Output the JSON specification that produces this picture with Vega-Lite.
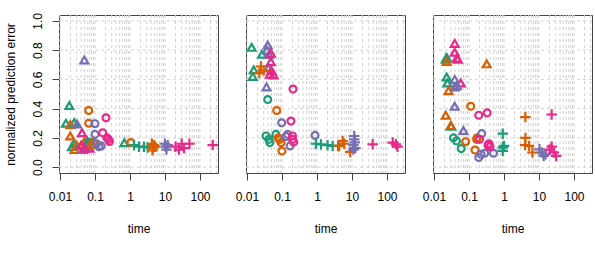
{
  "$schema": "https://vega.github.io/schema/vega-lite/v6.json",
  "padding": {"left": 4, "top": 12, "right": 0, "bottom": 0},
  "background": "white",
  "spacing": 28,
  "bounds": "flush",
  "config": {
    "view": {"stroke": "#444444", "strokeWidth": 1},
    "font": "Liberation Sans",
    "axis": {"labelFont": "Liberation Sans", "titleFont": "Liberation Sans", "labelFontSize": 12, "titleFontSize": 12, "titleFontWeight": "normal", "labelColor": "#000000", "titleColor": "#000000", "tickColor": "#444444", "tickSize": 7, "domain": false, "grid": false}
  },
  "datasets": {
    "vgrid": [
      {"g": 0.01}, {"g": 0.02}, {"g": 0.03}, {"g": 0.04}, {"g": 0.05}, {"g": 0.06}, {"g": 0.07}, {"g": 0.08}, {"g": 0.09},
      {"g": 0.1}, {"g": 0.2}, {"g": 0.3}, {"g": 0.4}, {"g": 0.5}, {"g": 0.6}, {"g": 0.7}, {"g": 0.8}, {"g": 0.9},
      {"g": 1}, {"g": 2}, {"g": 3}, {"g": 4}, {"g": 5}, {"g": 6}, {"g": 7}, {"g": 8}, {"g": 9},
      {"g": 10}, {"g": 20}, {"g": 30}, {"g": 40}, {"g": 50}, {"g": 60}, {"g": 70}, {"g": 80}, {"g": 90},
      {"g": 100}, {"g": 200}, {"g": 300}
    ],
    "hgrid": [{"g": 0}, {"g": 0.2}, {"g": 0.4}, {"g": 0.6}, {"g": 0.8}, {"g": 1}],
    "pts": [
      {"p": "a", "m": "A", "s": "tri", "t": 0.0185, "e": 0.421},
      {"p": "a", "m": "A", "s": "tri", "t": 0.0148, "e": 0.30},
      {"p": "a", "m": "A", "s": "tri", "t": 0.0256, "e": 0.305},
      {"p": "a", "m": "A", "s": "tri", "t": 0.022, "e": 0.14},
      {"p": "a", "m": "A", "s": "tri", "t": 0.025, "e": 0.16},
      {"p": "a", "m": "A", "s": "tri", "t": 0.06, "e": 0.18},
      {"p": "a", "m": "A", "s": "tri", "t": 0.687, "e": 0.167},
      {"p": "a", "m": "B", "s": "tri", "t": 0.0197, "e": 0.29},
      {"p": "a", "m": "B", "s": "tri", "t": 0.0197, "e": 0.213},
      {"p": "a", "m": "B", "s": "tri", "t": 0.026, "e": 0.12},
      {"p": "a", "m": "B", "s": "tri", "t": 0.03, "e": 0.15},
      {"p": "a", "m": "B", "s": "tri", "t": 0.05, "e": 0.175},
      {"p": "a", "m": "B", "s": "tri", "t": 0.065, "e": 0.135},
      {"p": "a", "m": "C", "s": "tri", "t": 0.0495, "e": 0.733},
      {"p": "a", "m": "C", "s": "tri", "t": 0.0306, "e": 0.295},
      {"p": "a", "m": "C", "s": "tri", "t": 0.045, "e": 0.12},
      {"p": "a", "m": "C", "s": "tri", "t": 0.055, "e": 0.14},
      {"p": "a", "m": "D", "s": "tri", "t": 0.0425, "e": 0.235},
      {"p": "a", "m": "D", "s": "tri", "t": 0.04, "e": 0.15},
      {"p": "a", "m": "D", "s": "tri", "t": 0.05, "e": 0.13},
      {"p": "a", "m": "D", "s": "tri", "t": 0.06, "e": 0.16},
      {"p": "a", "m": "D", "s": "tri", "t": 0.07, "e": 0.13},
      {"p": "a", "m": "A", "s": "circ", "t": 0.07, "e": 0.17},
      {"p": "a", "m": "B", "s": "circ", "t": 0.066, "e": 0.387},
      {"p": "a", "m": "B", "s": "circ", "t": 0.066, "e": 0.30},
      {"p": "a", "m": "B", "s": "circ", "t": 0.08, "e": 0.15},
      {"p": "a", "m": "B", "s": "circ", "t": 0.09, "e": 0.17},
      {"p": "a", "m": "B", "s": "circ", "t": 1.05, "e": 0.168},
      {"p": "a", "m": "C", "s": "circ", "t": 0.1, "e": 0.297},
      {"p": "a", "m": "C", "s": "circ", "t": 0.1, "e": 0.224},
      {"p": "a", "m": "C", "s": "circ", "t": 0.11, "e": 0.16},
      {"p": "a", "m": "C", "s": "circ", "t": 0.13, "e": 0.14},
      {"p": "a", "m": "C", "s": "circ", "t": 0.15, "e": 0.145},
      {"p": "a", "m": "D", "s": "circ", "t": 0.206, "e": 0.337},
      {"p": "a", "m": "D", "s": "circ", "t": 0.166, "e": 0.235},
      {"p": "a", "m": "D", "s": "circ", "t": 0.22, "e": 0.2},
      {"p": "a", "m": "D", "s": "circ", "t": 0.24, "e": 0.19},
      {"p": "a", "m": "D", "s": "circ", "t": 0.26, "e": 0.175},
      {"p": "a", "m": "A", "s": "plus", "t": 1.3, "e": 0.15},
      {"p": "a", "m": "A", "s": "plus", "t": 1.8, "e": 0.14},
      {"p": "a", "m": "A", "s": "plus", "t": 2.5, "e": 0.14},
      {"p": "a", "m": "A", "s": "plus", "t": 3.2, "e": 0.135},
      {"p": "a", "m": "B", "s": "plus", "t": 4.2, "e": 0.16},
      {"p": "a", "m": "B", "s": "plus", "t": 4.5, "e": 0.13},
      {"p": "a", "m": "B", "s": "plus", "t": 4.8, "e": 0.15},
      {"p": "a", "m": "B", "s": "plus", "t": 4.4, "e": 0.115},
      {"p": "a", "m": "B", "s": "plus", "t": 5.2, "e": 0.14},
      {"p": "a", "m": "C", "s": "plus", "t": 10, "e": 0.16},
      {"p": "a", "m": "C", "s": "plus", "t": 10.5, "e": 0.14},
      {"p": "a", "m": "C", "s": "plus", "t": 11, "e": 0.12},
      {"p": "a", "m": "C", "s": "plus", "t": 12, "e": 0.15},
      {"p": "a", "m": "D", "s": "plus", "t": 20, "e": 0.14},
      {"p": "a", "m": "D", "s": "plus", "t": 25, "e": 0.12},
      {"p": "a", "m": "D", "s": "plus", "t": 30, "e": 0.16},
      {"p": "a", "m": "D", "s": "plus", "t": 35, "e": 0.13},
      {"p": "a", "m": "D", "s": "plus", "t": 50, "e": 0.16},
      {"p": "a", "m": "D", "s": "plus", "t": 231, "e": 0.151},

      {"p": "b", "m": "A", "s": "tri", "t": 0.0136, "e": 0.819},
      {"p": "b", "m": "A", "s": "tri", "t": 0.0268, "e": 0.772},
      {"p": "b", "m": "A", "s": "tri", "t": 0.0155, "e": 0.665},
      {"p": "b", "m": "A", "s": "tri", "t": 0.0146, "e": 0.62},
      {"p": "b", "m": "C", "s": "tri", "t": 0.039, "e": 0.835},
      {"p": "b", "m": "C", "s": "tri", "t": 0.037, "e": 0.80},
      {"p": "b", "m": "C", "s": "tri", "t": 0.042, "e": 0.77},
      {"p": "b", "m": "C", "s": "tri", "t": 0.041, "e": 0.677},
      {"p": "b", "m": "C", "s": "tri", "t": 0.036, "e": 0.548},
      {"p": "b", "m": "D", "s": "tri", "t": 0.0484, "e": 0.778},
      {"p": "b", "m": "D", "s": "tri", "t": 0.048, "e": 0.72},
      {"p": "b", "m": "D", "s": "tri", "t": 0.05, "e": 0.66},
      {"p": "b", "m": "D", "s": "tri", "t": 0.057, "e": 0.63},
      {"p": "b", "m": "D", "s": "tri", "t": 0.045, "e": 0.635},
      {"p": "b", "m": "B", "s": "plus", "t": 0.025, "e": 0.688},
      {"p": "b", "m": "B", "s": "plus", "t": 0.0225, "e": 0.643},
      {"p": "b", "m": "B", "s": "plus", "t": 0.03, "e": 0.66},
      {"p": "b", "m": "A", "s": "circ", "t": 0.039, "e": 0.462},
      {"p": "b", "m": "A", "s": "circ", "t": 0.035, "e": 0.213},
      {"p": "b", "m": "A", "s": "circ", "t": 0.045, "e": 0.168},
      {"p": "b", "m": "A", "s": "circ", "t": 0.067, "e": 0.224},
      {"p": "b", "m": "A", "s": "circ", "t": 0.042, "e": 0.19},
      {"p": "b", "m": "B", "s": "circ", "t": 0.0706, "e": 0.387},
      {"p": "b", "m": "B", "s": "circ", "t": 0.078, "e": 0.20},
      {"p": "b", "m": "B", "s": "circ", "t": 0.094, "e": 0.168},
      {"p": "b", "m": "B", "s": "circ", "t": 0.1, "e": 0.11},
      {"p": "b", "m": "B", "s": "circ", "t": 0.085, "e": 0.19},
      {"p": "b", "m": "C", "s": "circ", "t": 0.098, "e": 0.303},
      {"p": "b", "m": "C", "s": "circ", "t": 0.146, "e": 0.224},
      {"p": "b", "m": "C", "s": "circ", "t": 0.17, "e": 0.145},
      {"p": "b", "m": "C", "s": "circ", "t": 0.13, "e": 0.21},
      {"p": "b", "m": "C", "s": "circ", "t": 0.877, "e": 0.217},
      {"p": "b", "m": "D", "s": "circ", "t": 0.206, "e": 0.534},
      {"p": "b", "m": "D", "s": "circ", "t": 0.18, "e": 0.315},
      {"p": "b", "m": "D", "s": "circ", "t": 0.2, "e": 0.213},
      {"p": "b", "m": "D", "s": "circ", "t": 0.215, "e": 0.172},
      {"p": "b", "m": "D", "s": "circ", "t": 0.2, "e": 0.19},
      {"p": "b", "m": "A", "s": "plus", "t": 0.93, "e": 0.16},
      {"p": "b", "m": "A", "s": "plus", "t": 1.3, "e": 0.155},
      {"p": "b", "m": "A", "s": "plus", "t": 2, "e": 0.15},
      {"p": "b", "m": "A", "s": "plus", "t": 2.8, "e": 0.145},
      {"p": "b", "m": "A", "s": "plus", "t": 4, "e": 0.145},
      {"p": "b", "m": "B", "s": "plus", "t": 5.4, "e": 0.179},
      {"p": "b", "m": "B", "s": "plus", "t": 4.3, "e": 0.145},
      {"p": "b", "m": "B", "s": "plus", "t": 8.9, "e": 0.104},
      {"p": "b", "m": "B", "s": "plus", "t": 6, "e": 0.16},
      {"p": "b", "m": "C", "s": "plus", "t": 11.6, "e": 0.213},
      {"p": "b", "m": "C", "s": "plus", "t": 11.6, "e": 0.19},
      {"p": "b", "m": "C", "s": "plus", "t": 12, "e": 0.17},
      {"p": "b", "m": "C", "s": "plus", "t": 11, "e": 0.15},
      {"p": "b", "m": "C", "s": "plus", "t": 12.5, "e": 0.13},
      {"p": "b", "m": "C", "s": "plus", "t": 11, "e": 0.12},
      {"p": "b", "m": "D", "s": "plus", "t": 39, "e": 0.156},
      {"p": "b", "m": "D", "s": "plus", "t": 146, "e": 0.168},
      {"p": "b", "m": "D", "s": "plus", "t": 180, "e": 0.156},
      {"p": "b", "m": "D", "s": "plus", "t": 200, "e": 0.14},

      {"p": "c", "m": "A", "s": "tri", "t": 0.0216, "e": 0.738},
      {"p": "c", "m": "A", "s": "tri", "t": 0.023, "e": 0.75},
      {"p": "c", "m": "A", "s": "tri", "t": 0.023, "e": 0.616},
      {"p": "c", "m": "A", "s": "tri", "t": 0.024, "e": 0.575},
      {"p": "c", "m": "A", "s": "tri", "t": 0.031, "e": 0.28},
      {"p": "c", "m": "D", "s": "tri", "t": 0.039, "e": 0.846},
      {"p": "c", "m": "D", "s": "tri", "t": 0.039, "e": 0.785},
      {"p": "c", "m": "D", "s": "tri", "t": 0.0445, "e": 0.745},
      {"p": "c", "m": "D", "s": "tri", "t": 0.048, "e": 0.738},
      {"p": "c", "m": "D", "s": "tri", "t": 0.058, "e": 0.575},
      {"p": "c", "m": "C", "s": "tri", "t": 0.039, "e": 0.60},
      {"p": "c", "m": "C", "s": "tri", "t": 0.045, "e": 0.557},
      {"p": "c", "m": "C", "s": "tri", "t": 0.039, "e": 0.548},
      {"p": "c", "m": "C", "s": "tri", "t": 0.039, "e": 0.416},
      {"p": "c", "m": "C", "s": "tri", "t": 0.069, "e": 0.251},
      {"p": "c", "m": "B", "s": "tri", "t": 0.023, "e": 0.722},
      {"p": "c", "m": "B", "s": "tri", "t": 0.32, "e": 0.706},
      {"p": "c", "m": "B", "s": "tri", "t": 0.026, "e": 0.523},
      {"p": "c", "m": "B", "s": "tri", "t": 0.0216, "e": 0.355},
      {"p": "c", "m": "B", "s": "tri", "t": 0.03, "e": 0.285},
      {"p": "c", "m": "A", "s": "circ", "t": 0.036, "e": 0.2},
      {"p": "c", "m": "A", "s": "circ", "t": 0.044, "e": 0.179},
      {"p": "c", "m": "A", "s": "circ", "t": 0.06, "e": 0.127},
      {"p": "c", "m": "B", "s": "circ", "t": 0.112, "e": 0.416},
      {"p": "c", "m": "B", "s": "circ", "t": 0.08, "e": 0.174},
      {"p": "c", "m": "B", "s": "circ", "t": 0.148, "e": 0.117},
      {"p": "c", "m": "B", "s": "circ", "t": 0.165, "e": 0.19},
      {"p": "c", "m": "B", "s": "circ", "t": 0.17, "e": 0.2},
      {"p": "c", "m": "C", "s": "circ", "t": 0.23, "e": 0.229},
      {"p": "c", "m": "C", "s": "circ", "t": 0.19, "e": 0.066},
      {"p": "c", "m": "C", "s": "circ", "t": 0.28, "e": 0.095},
      {"p": "c", "m": "C", "s": "circ", "t": 0.5, "e": 0.095},
      {"p": "c", "m": "C", "s": "circ", "t": 0.22, "e": 0.088},
      {"p": "c", "m": "D", "s": "circ", "t": 0.19, "e": 0.355},
      {"p": "c", "m": "D", "s": "circ", "t": 0.33, "e": 0.371},
      {"p": "c", "m": "D", "s": "circ", "t": 0.2, "e": 0.19},
      {"p": "c", "m": "D", "s": "circ", "t": 0.35, "e": 0.15},
      {"p": "c", "m": "D", "s": "circ", "t": 0.4, "e": 0.14},
      {"p": "c", "m": "D", "s": "circ", "t": 0.37, "e": 0.16},
      {"p": "c", "m": "A", "s": "plus", "t": 0.92, "e": 0.229},
      {"p": "c", "m": "A", "s": "plus", "t": 0.92, "e": 0.134},
      {"p": "c", "m": "A", "s": "plus", "t": 0.92, "e": 0.111},
      {"p": "c", "m": "A", "s": "plus", "t": 1.0, "e": 0.145},
      {"p": "c", "m": "B", "s": "plus", "t": 4.08, "e": 0.342},
      {"p": "c", "m": "B", "s": "plus", "t": 4.1, "e": 0.2},
      {"p": "c", "m": "B", "s": "plus", "t": 4.0, "e": 0.151},
      {"p": "c", "m": "B", "s": "plus", "t": 5.2, "e": 0.145},
      {"p": "c", "m": "B", "s": "plus", "t": 6.5, "e": 0.1},
      {"p": "c", "m": "C", "s": "plus", "t": 10.3, "e": 0.122},
      {"p": "c", "m": "C", "s": "plus", "t": 13.6, "e": 0.077},
      {"p": "c", "m": "C", "s": "plus", "t": 15.5, "e": 0.088},
      {"p": "c", "m": "C", "s": "plus", "t": 12, "e": 0.1},
      {"p": "c", "m": "D", "s": "plus", "t": 23, "e": 0.36},
      {"p": "c", "m": "D", "s": "plus", "t": 23, "e": 0.14},
      {"p": "c", "m": "D", "s": "plus", "t": 26.5, "e": 0.1},
      {"p": "c", "m": "D", "s": "plus", "t": 31, "e": 0.077},
      {"p": "c", "m": "D", "s": "plus", "t": 20, "e": 0.12}
    ]
  },
  "hconcat": [
    {
      "width": 159, "height": 158,
      "encoding": {
        "x": {"field": "t", "type": "quantitative", "scale": {"type": "log", "domain": [0.00936, 327], "nice": false},
              "axis": {"values": [0.01, 0.1, 1, 10, 100], "format": "~g", "title": "time", "labelPadding": 11, "titleY": 50, "titleBaseline": "top"}},
        "y": {"field": "e", "type": "quantitative", "scale": {"domain": [-0.04, 1.04], "nice": false, "zero": false},
              "axis": {"values": [0, 0.2, 0.4, 0.6, 0.8, 1], "format": ".1f", "title": "normalized prediction error", "labelAngle": -90, "labelAlign": "center", "labelBaseline": "bottom", "labelPadding": 8, "titleX": -41.5, "titleBaseline": "bottom"}}
      },
      "layer": [
        {"data": {"name": "vgrid"}, "mark": {"type": "rule", "color": "#D3D3D3", "strokeDash": [3, 3], "strokeWidth": 1},
         "encoding": {"x": {"field": "g", "type": "quantitative"}, "y": null}},
        {"data": {"name": "hgrid"}, "mark": {"type": "rule", "color": "#D3D3D3", "strokeDash": [3, 3], "strokeWidth": 1},
         "encoding": {"y": {"field": "g", "type": "quantitative"}, "x": null}},
        {"data": {"name": "pts"}, "transform": [{"filter": "datum.p == 'a'"}],
         "mark": {"type": "point", "filled": false, "strokeWidth": 2.2, "opacity": 1},
         "encoding": {
           "color": {"field": "m", "type": "nominal", "scale": {"domain": ["A", "B", "C", "D"], "range": ["#1B9E77", "#D95F02", "#7570B3", "#E7298A"]}, "legend": null},
           "shape": {"field": "s", "type": "nominal", "scale": {"domain": ["tri", "circ", "plus"], "range": ["triangle-up", "circle", "M-1,0H1M0,-1V1"]}, "legend": null},
           "size": {"condition": [{"test": "datum.s == 'plus'", "value": 110}, {"test": "datum.s == 'circ'", "value": 48}], "value": 62}
         }}
      ]
    },
    {
      "width": 159, "height": 158,
      "encoding": {
        "x": {"field": "t", "type": "quantitative", "scale": {"type": "log", "domain": [0.00936, 327], "nice": false},
              "axis": {"values": [0.01, 0.1, 1, 10, 100], "format": "~g", "title": "time", "labelPadding": 11, "titleY": 50, "titleBaseline": "top"}},
        "y": {"field": "e", "type": "quantitative", "scale": {"domain": [-0.04, 1.04], "nice": false, "zero": false}, "axis": null}
      },
      "layer": [
        {"data": {"name": "vgrid"}, "mark": {"type": "rule", "color": "#D3D3D3", "strokeDash": [3, 3], "strokeWidth": 1},
         "encoding": {"x": {"field": "g", "type": "quantitative"}, "y": null}},
        {"data": {"name": "hgrid"}, "mark": {"type": "rule", "color": "#D3D3D3", "strokeDash": [3, 3], "strokeWidth": 1},
         "encoding": {"y": {"field": "g", "type": "quantitative"}, "x": null}},
        {"data": {"name": "pts"}, "transform": [{"filter": "datum.p == 'b'"}],
         "mark": {"type": "point", "filled": false, "strokeWidth": 2.2, "opacity": 1},
         "encoding": {
           "color": {"field": "m", "type": "nominal", "scale": {"domain": ["A", "B", "C", "D"], "range": ["#1B9E77", "#D95F02", "#7570B3", "#E7298A"]}, "legend": null},
           "shape": {"field": "s", "type": "nominal", "scale": {"domain": ["tri", "circ", "plus"], "range": ["triangle-up", "circle", "M-1,0H1M0,-1V1"]}, "legend": null},
           "size": {"condition": [{"test": "datum.s == 'plus'", "value": 110}, {"test": "datum.s == 'circ'", "value": 48}], "value": 62}
         }}
      ]
    },
    {
      "width": 159, "height": 158,
      "encoding": {
        "x": {"field": "t", "type": "quantitative", "scale": {"type": "log", "domain": [0.00936, 327], "nice": false},
              "axis": {"values": [0.01, 0.1, 1, 10, 100], "format": "~g", "title": "time", "labelPadding": 11, "titleY": 50, "titleBaseline": "top"}},
        "y": {"field": "e", "type": "quantitative", "scale": {"domain": [-0.04, 1.04], "nice": false, "zero": false}, "axis": null}
      },
      "layer": [
        {"data": {"name": "vgrid"}, "mark": {"type": "rule", "color": "#D3D3D3", "strokeDash": [3, 3], "strokeWidth": 1},
         "encoding": {"x": {"field": "g", "type": "quantitative"}, "y": null}},
        {"data": {"name": "hgrid"}, "mark": {"type": "rule", "color": "#D3D3D3", "strokeDash": [3, 3], "strokeWidth": 1},
         "encoding": {"y": {"field": "g", "type": "quantitative"}, "x": null}},
        {"data": {"name": "pts"}, "transform": [{"filter": "datum.p == 'c'"}],
         "mark": {"type": "point", "filled": false, "strokeWidth": 2.2, "opacity": 1},
         "encoding": {
           "color": {"field": "m", "type": "nominal", "scale": {"domain": ["A", "B", "C", "D"], "range": ["#1B9E77", "#D95F02", "#7570B3", "#E7298A"]}, "legend": null},
           "shape": {"field": "s", "type": "nominal", "scale": {"domain": ["tri", "circ", "plus"], "range": ["triangle-up", "circle", "M-1,0H1M0,-1V1"]}, "legend": null},
           "size": {"condition": [{"test": "datum.s == 'plus'", "value": 110}, {"test": "datum.s == 'circ'", "value": 48}], "value": 62}
         }}
      ]
    }
  ]
}
